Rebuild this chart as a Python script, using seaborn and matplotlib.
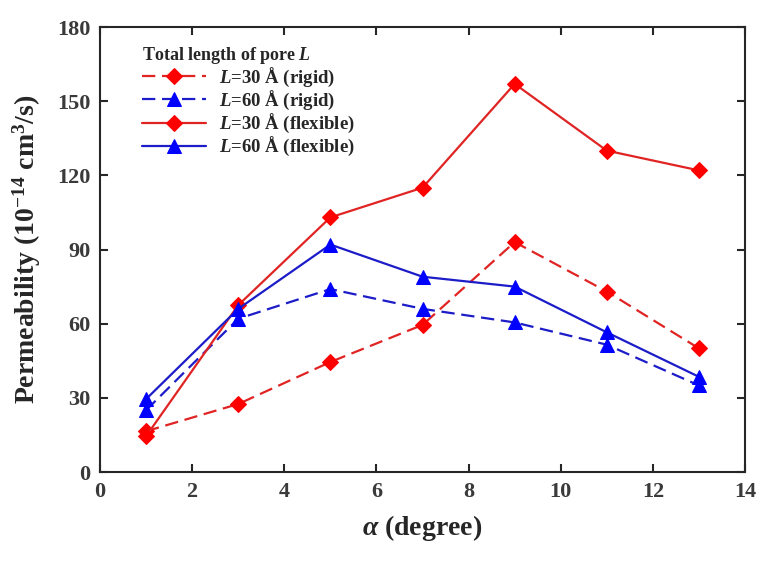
import pandas as pd
import seaborn as sns
import matplotlib.pyplot as plt

# datos
alpha = [1, 3, 5, 7, 9, 11, 13]
l30_rigid = [16.5, 27.5, 44.5, 59.5, 93, 73, 50]
l60_rigid = [25, 62, 74, 66, 60.5, 51.5, 35]
l30_flex = [14.5, 67.5, 103, 115, 157, 130, 122]
l60_flex = [29.5, 66, 92, 79, 75, 56.5, 38.5]

etiquetas = ['$L$=30 Å (rigid)', '$L$=60 Å (rigid)',
             '$L$=30 Å (flexible)', '$L$=60 Å (flexible)']
series = [l30_rigid, l60_rigid, l30_flex, l60_flex]

sns.set_style('ticks')
plt.rcParams['font.family'] = ['Liberation Serif', 'DejaVu Serif']
plt.rcParams['font.weight'] = 'bold'
plt.rcParams['mathtext.fontset'] = 'custom'
plt.rcParams['mathtext.rm'] = 'Liberation Serif:bold'
plt.rcParams['mathtext.bf'] = 'Liberation Serif:bold'
plt.rcParams['mathtext.it'] = 'Liberation Serif:italic:bold'

fig = plt.figure(figsize=(7.76, 5.64), dpi=100)
ax = fig.add_axes([0.1289, 0.1631, 0.8312, 0.789])

estilos = [
    dict(color='#e02424', mfc='#ff0000', marker='D', ls=(0, (6, 3)), ms=8),
    dict(color='#1c1cc8', mfc='#0000ff', marker='^', ls=(0, (6, 3)), ms=10),
    dict(color='#e02424', mfc='#ff0000', marker='D', ls='-', ms=8),
    dict(color='#1c1cc8', mfc='#0000ff', marker='^', ls='-', ms=10),
]

for valores, nombre, est in zip(series, etiquetas, estilos):
    df = pd.DataFrame({'alpha': alpha, 'perm': valores})
    sns.lineplot(data=df, x='alpha', y='perm', ax=ax, label=nombre,
                 color=est['color'], linestyle=est['ls'], linewidth=1.6,
                 marker=est['marker'], markersize=est['ms'],
                 markerfacecolor=est['mfc'], markeredgecolor=est['mfc'])

ax.set_xlim(0, 14)
ax.set_ylim(0, 180)
ax.set_xticks(range(0, 15, 2))
ax.set_yticks(range(0, 181, 30))
ax.tick_params(direction='in', length=6, width=1.5, top=True, right=True,
               labelsize=16, labelcolor='#3a3a3a', pad=7)
for lab in ax.get_xticklabels() + ax.get_yticklabels():
    lab.set_fontweight('bold')
for s in ax.spines.values():
    s.set_linewidth(1.5)

ax.set_xlabel(r'$\alpha$ (degree)', fontsize=20, fontweight='bold', labelpad=8)
ax.set_ylabel('Permeability (10$^{-14}$ cm$^{3}$/s)', fontsize=20,
              fontweight='bold', labelpad=10)

leg = ax.legend(loc='upper left', bbox_to_anchor=(0.065, 0.96), frameon=False,
                title='Total length of pore $L$', alignment='left',
                fontsize=13.5, title_fontproperties={'weight': 'bold', 'size': 13},
                handlelength=3.4, handletextpad=0.7, labelspacing=0.0,
                borderpad=0, borderaxespad=0)

fig.savefig('out.png', dpi=100)
